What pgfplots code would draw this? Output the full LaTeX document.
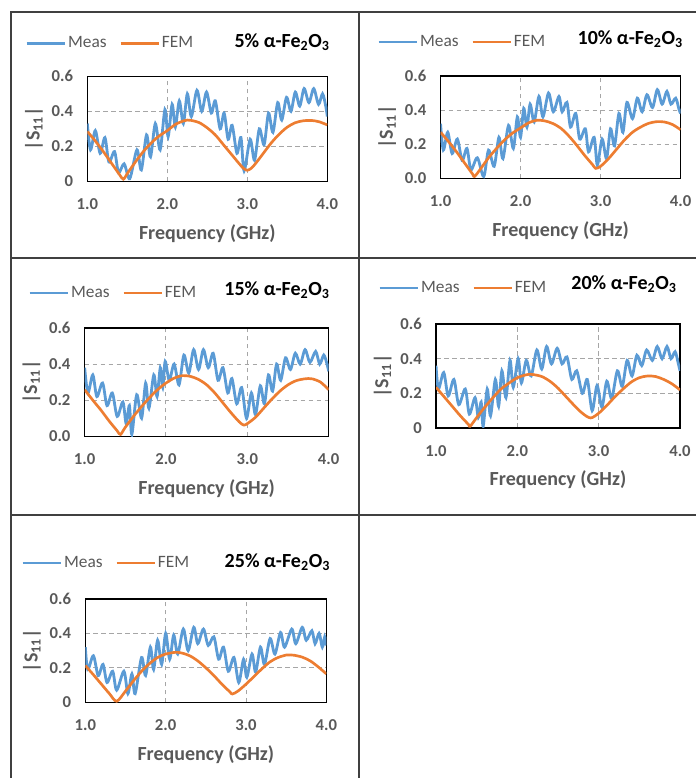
\documentclass[border=0pt]{standalone}
\usepackage{fontspec}
\setmainfont{Carlito}
\usepackage{pgfplots}
\pgfplotsset{compat=1.18}
\definecolor{measblue}{HTML}{5B9BD5}
\definecolor{femorange}{HTML}{ED7D31}
\definecolor{txtgray}{HTML}{595959}
\definecolor{framegray}{HTML}{404040}

\pgfplotsset{
 panel/.style={
  scale only axis, anchor=south west,
  xmin=1, xmax=4, ymin=0, ymax=0.6,
  xtick={1,2,3,4}, xticklabels={1.0,2.0,3.0,4.0},
  ytick={0,0.2,0.4,0.6},
  major tick length=0pt,
  grid=major,
  grid style={color=gray!70, line width=0.75pt, dash pattern=on 3.5pt off 2.5pt},
  axis line style={black, line width=1.1pt},
  /pgf/number format/assume math mode=true,
  tick label style={font=\bfseries\fontsize{12.5}{13}\selectfont, text=txtgray, inner sep=0pt},
  xticklabel style={anchor=center, yshift=-17pt},
  yticklabel style={anchor=east, xshift=-10.5pt},
  xlabel={Frequency (GHz)},
  ylabel={|S\textsubscript{11}|},
  every axis x label/.style={at={(axis description cs:0.5,0)}, anchor=center, yshift=-39pt, font=\bfseries\fontsize{15}{16}\selectfont, text=txtgray},
  every axis y label/.style={at={(axis description cs:0,0.5)}, xshift=-40pt, rotate=90, anchor=center, font=\bfseries\fontsize{15}{16}\selectfont, text=txtgray},
  legend columns=2,
  legend image code/.code={\draw[#1] (0pt,0pt) -- (28.5pt,0pt);},
  legend style={draw=none, fill=none, inner sep=0pt, anchor=west, font=\fontsize{13}{14}\selectfont, text=txtgray, nodes={inner sep=1.5pt}, /tikz/every even column/.append style={column sep=8pt}},
  title style={anchor=east, font=\bfseries\fontsize{15}{16}\selectfont, text=black, inner sep=0pt},
 },
 meas/.style={color=measblue, line width=2.1pt, smooth, tension=0.5, mark=none},
 fem/.style={color=femorange, line width=2.0pt, smooth, mark=none},
}

\begin{document}
\begin{tikzpicture}
\useasboundingbox (0,0) rectangle (522pt,583.5pt);
% cell frame
\draw[framegray, line width=1.1pt] (8.25pt,0pt) -- (8.25pt,574.5pt) -- (522pt,574.5pt);
\draw[framegray, line width=1.1pt] (269.25pt,0pt) -- (269.25pt,574.5pt);
\draw[framegray, line width=1.1pt] (8.25pt,390pt) -- (522pt,390pt);
\draw[framegray, line width=1.1pt] (8.25pt,197.25pt) -- (522pt,197.25pt);

% ---------- 5% ----------
\begin{axis}[panel, at={(65.5pt,447.5pt)}, width=180pt, height=78.75pt,
  yticklabels={0,0.2,0.4,0.6},
  title={5\% α-Fe\textsubscript{2}O\textsubscript{3}},
  title style={at={(axis description cs:1,1)}, xshift=2pt, yshift=19.5pt},
  legend style={at={(axis description cs:0,1)}, xshift=-46.7pt, yshift=24.75pt}]
\addplot[meas] coordinates {
(1.00,0.33)(1.04,0.18)(1.10,0.29)(1.16,0.16)(1.22,0.25)(1.27,0.11)(1.34,0.17)(1.39,0.05)
(1.46,0.10)(1.53,0.015)(1.62,0.18)(1.675,0.065)(1.74,0.265)(1.79,0.14)(1.85,0.33)(1.91,0.18)
(1.97,0.41)(2.01,0.255)(2.06,0.44)(2.10,0.31)(2.15,0.46)(2.20,0.33)(2.25,0.50)(2.30,0.37)
(2.37,0.52)(2.43,0.40)(2.49,0.51)(2.55,0.39)(2.60,0.46)(2.66,0.30)(2.71,0.39)(2.76,0.24)
(2.81,0.32)(2.87,0.16)(2.92,0.25)(2.96,0.06)(3.035,0.24)(3.09,0.12)(3.15,0.30)(3.21,0.21)
(3.265,0.39)(3.32,0.28)(3.38,0.45)(3.43,0.35)(3.49,0.48)(3.545,0.40)(3.60,0.51)(3.655,0.43)
(3.71,0.53)(3.77,0.45)(3.83,0.53)(3.89,0.44)(3.94,0.50)(3.98,0.43)(4.00,0.37)};
\addlegendentry{Meas}
\addplot[fem] coordinates {
(1.0,0.285)(1.1,0.23)(1.2,0.17)(1.3,0.105)(1.4,0.04)(1.45,0.012)(1.5,0.045)(1.6,0.11)
(1.7,0.17)(1.8,0.22)(1.9,0.26)(2.0,0.29)(2.1,0.325)(2.2,0.345)(2.25,0.35)(2.3,0.348)
(2.4,0.335)(2.5,0.305)(2.6,0.265)(2.7,0.21)(2.8,0.155)(2.9,0.10)(2.95,0.075)(3.0,0.063)
(3.05,0.075)(3.1,0.10)(3.2,0.16)(3.3,0.22)(3.4,0.27)(3.5,0.31)(3.6,0.335)(3.7,0.346)
(3.8,0.348)(3.9,0.34)(4.0,0.322)};
\addlegendentry{FEM}
\end{axis}

% ---------- 10% ----------
\begin{axis}[panel, at={(330.4pt,449.8pt)}, width=180pt, height=76.7pt,
  yticklabels={0.0,0.2,0.4,0.6},
  title={10\% α-Fe\textsubscript{2}O\textsubscript{3}},
  title style={at={(axis description cs:1,1)}, xshift=2pt, yshift=21.75pt},
  legend style={at={(axis description cs:0,1)}, xshift=-47.6pt, yshift=25.5pt}]
\addplot[meas] coordinates {
(1.00,0.32)(1.035,0.165)(1.09,0.27)(1.145,0.145)(1.21,0.23)(1.27,0.105)(1.33,0.175)(1.38,0.05)
(1.46,0.12)(1.54,0.01)(1.60,0.165)(1.67,0.07)(1.73,0.24)(1.78,0.115)(1.85,0.31)(1.91,0.175)
(1.96,0.36)(2.00,0.24)(2.04,0.41)(2.08,0.30)(2.12,0.435)(2.17,0.33)(2.23,0.48)(2.28,0.36)
(2.35,0.50)(2.41,0.39)(2.48,0.48)(2.52,0.39)(2.58,0.445)(2.625,0.30)(2.69,0.38)(2.74,0.23)
(2.81,0.29)(2.85,0.155)(2.92,0.24)(2.96,0.077)(3.02,0.23)(3.075,0.115)(3.125,0.29)(3.175,0.19)
(3.23,0.38)(3.28,0.27)(3.33,0.445)(3.40,0.35)(3.46,0.47)(3.52,0.39)(3.58,0.49)(3.65,0.415)
(3.71,0.52)(3.77,0.435)(3.83,0.51)(3.88,0.435)(3.94,0.47)(3.98,0.405)(4.00,0.38)};
\addlegendentry{Meas}
\addplot[fem] coordinates {
(1.0,0.27)(1.1,0.215)(1.2,0.155)(1.3,0.09)(1.4,0.025)(1.425,0.01)(1.5,0.055)(1.6,0.12)
(1.7,0.175)(1.8,0.225)(1.9,0.265)(2.0,0.295)(2.1,0.325)(2.2,0.34)(2.3,0.337)(2.4,0.322)
(2.5,0.295)(2.6,0.25)(2.7,0.195)(2.8,0.135)(2.9,0.08)(2.94,0.058)(3.0,0.07)(3.1,0.115)
(3.2,0.17)(3.3,0.225)(3.4,0.27)(3.5,0.30)(3.6,0.322)(3.7,0.332)(3.8,0.33)(3.9,0.315)(4.0,0.285)};
\addlegendentry{FEM}
\end{axis}

% ---------- 15% ----------
\begin{axis}[panel, at={(63.5pt,256.3pt)}, width=183pt, height=81.2pt,
  yticklabels={0.0,0.2,0.4,0.6},
  title={15\% α-Fe\textsubscript{2}O\textsubscript{3}},
  title style={at={(axis description cs:1,1)}, xshift=1pt, yshift=22.5pt},
  legend style={at={(axis description cs:0,1)}, xshift=-42.5pt, yshift=26.25pt}]
\addplot[meas] coordinates {
(1.00,0.38)(1.04,0.24)(1.10,0.34)(1.15,0.22)(1.22,0.295)(1.275,0.17)(1.34,0.24)(1.40,0.11)
(1.47,0.19)(1.51,0.07)(1.55,0.17)(1.58,0.01)(1.64,0.23)(1.70,0.10)(1.75,0.295)(1.79,0.155)
(1.85,0.34)(1.89,0.22)(1.93,0.38)(1.96,0.27)(1.99,0.415)(2.04,0.31)(2.10,0.40)(2.16,0.285)
(2.22,0.45)(2.28,0.35)(2.34,0.48)(2.40,0.37)(2.46,0.48)(2.52,0.38)(2.58,0.46)(2.64,0.31)
(2.70,0.38)(2.76,0.24)(2.81,0.32)(2.87,0.18)(2.93,0.27)(2.99,0.10)(3.05,0.24)(3.10,0.12)
(3.16,0.28)(3.21,0.18)(3.26,0.34)(3.31,0.25)(3.36,0.40)(3.41,0.31)(3.47,0.435)(3.53,0.37)
(3.59,0.46)(3.65,0.40)(3.71,0.48)(3.77,0.41)(3.84,0.47)(3.89,0.40)(3.94,0.45)(3.98,0.40)(4.00,0.36)};
\addlegendentry{Meas}
\addplot[fem] coordinates {
(1.0,0.258)(1.1,0.20)(1.2,0.145)(1.3,0.085)(1.4,0.03)(1.44,0.01)(1.5,0.05)(1.6,0.11)
(1.7,0.165)(1.8,0.215)(1.9,0.26)(2.0,0.295)(2.1,0.322)(2.2,0.336)(2.3,0.332)(2.4,0.315)
(2.5,0.285)(2.6,0.24)(2.7,0.185)(2.8,0.13)(2.9,0.08)(2.955,0.062)(3.0,0.07)(3.1,0.105)
(3.2,0.155)(3.3,0.205)(3.4,0.25)(3.5,0.285)(3.6,0.308)(3.7,0.318)(3.75,0.32)(3.8,0.318)
(3.9,0.30)(4.0,0.258)};
\addlegendentry{FEM}
\end{axis}

% ---------- 20% ----------
\begin{axis}[panel, at={(327pt,262.5pt)}, width=183pt, height=78pt,
  yticklabels={0,0.2,0.4,0.6},
  title={20\% α-Fe\textsubscript{2}O\textsubscript{3}},
  title style={at={(axis description cs:1,1)}, xshift=-2.25pt, yshift=24pt},
  legend style={at={(axis description cs:0,1)}, xshift=-43.5pt, yshift=27pt}]
\addplot[meas] coordinates {
(1.00,0.36)(1.03,0.225)(1.095,0.32)(1.15,0.185)(1.22,0.28)(1.28,0.135)(1.36,0.225)(1.41,0.08)
(1.48,0.175)(1.52,0.06)(1.555,0.15)(1.58,0.01)(1.63,0.225)(1.67,0.07)(1.73,0.28)(1.77,0.125)
(1.81,0.33)(1.86,0.175)(1.91,0.39)(1.95,0.235)(2.01,0.40)(2.05,0.26)(2.11,0.39)(2.17,0.30)
(2.24,0.45)(2.30,0.34)(2.36,0.47)(2.42,0.37)(2.49,0.46)(2.55,0.37)(2.61,0.41)(2.67,0.28)
(2.73,0.33)(2.80,0.20)(2.86,0.28)(2.92,0.10)(2.98,0.245)(3.04,0.12)(3.10,0.27)(3.16,0.17)
(3.23,0.33)(3.29,0.24)(3.35,0.39)(3.41,0.30)(3.47,0.42)(3.53,0.36)(3.59,0.45)(3.66,0.39)
(3.72,0.47)(3.78,0.40)(3.84,0.47)(3.89,0.40)(3.94,0.44)(3.98,0.37)(4.00,0.33)};
\addlegendentry{Meas}
\addplot[fem] coordinates {
(1.0,0.235)(1.1,0.18)(1.2,0.125)(1.3,0.07)(1.4,0.02)(1.42,0.01)(1.5,0.06)(1.6,0.12)
(1.7,0.175)(1.8,0.225)(1.9,0.26)(2.0,0.29)(2.1,0.306)(2.16,0.31)(2.2,0.308)(2.3,0.297)
(2.4,0.27)(2.5,0.23)(2.6,0.18)(2.7,0.13)(2.8,0.085)(2.9,0.058)(3.0,0.085)(3.1,0.13)
(3.2,0.18)(3.3,0.225)(3.4,0.265)(3.5,0.29)(3.6,0.30)(3.7,0.297)(3.8,0.28)(3.9,0.255)(4.0,0.22)};
\addlegendentry{FEM}
\end{axis}

% ---------- 25% ----------
\begin{axis}[panel, at={(64pt,56.8pt)}, width=180.75pt, height=77.5pt,
  yticklabels={0,0.2,0.4,0.6},
  title={25\% α-Fe\textsubscript{2}O\textsubscript{3}},
  title style={at={(axis description cs:1,1)}, xshift=3pt, yshift=21.75pt},
  legend style={at={(axis description cs:0,1)}, xshift=-48.2pt, yshift=27pt}]
\addplot[meas] coordinates {
(1.00,0.32)(1.03,0.19)(1.10,0.27)(1.16,0.155)(1.22,0.22)(1.27,0.115)(1.34,0.18)(1.39,0.07)
(1.48,0.18)(1.53,0.05)(1.58,0.165)(1.62,0.05)(1.70,0.26)(1.75,0.155)(1.81,0.32)(1.85,0.19)
(1.90,0.36)(1.95,0.22)(2.00,0.40)(2.05,0.25)(2.10,0.39)(2.15,0.28)(2.22,0.425)(2.28,0.30)
(2.35,0.435)(2.40,0.34)(2.47,0.425)(2.53,0.33)(2.60,0.38)(2.66,0.25)(2.72,0.32)(2.78,0.18)
(2.85,0.26)(2.91,0.115)(2.97,0.25)(3.01,0.145)(3.075,0.28)(3.12,0.175)(3.18,0.32)(3.23,0.22)
(3.30,0.37)(3.36,0.28)(3.43,0.405)(3.48,0.32)(3.57,0.425)(3.62,0.34)(3.70,0.435)(3.75,0.36)
(3.82,0.415)(3.86,0.34)(3.91,0.40)(3.95,0.32)(3.98,0.38)(4.00,0.33)};
\addlegendentry{Meas}
\addplot[fem] coordinates {
(1.0,0.213)(1.1,0.16)(1.2,0.105)(1.3,0.05)(1.39,0.006)(1.5,0.065)(1.6,0.125)(1.7,0.18)
(1.8,0.225)(1.9,0.26)(2.0,0.28)(2.12,0.29)(2.2,0.286)(2.3,0.27)(2.4,0.24)(2.5,0.20)
(2.6,0.155)(2.7,0.105)(2.8,0.06)(2.83,0.048)(2.9,0.065)(3.0,0.105)(3.1,0.15)(3.2,0.195)
(3.3,0.235)(3.4,0.26)(3.5,0.274)(3.55,0.275)(3.6,0.273)(3.7,0.262)(3.8,0.24)(3.9,0.205)(4.0,0.165)};
\addlegendentry{FEM}
\end{axis}
\end{tikzpicture}
\end{document}
